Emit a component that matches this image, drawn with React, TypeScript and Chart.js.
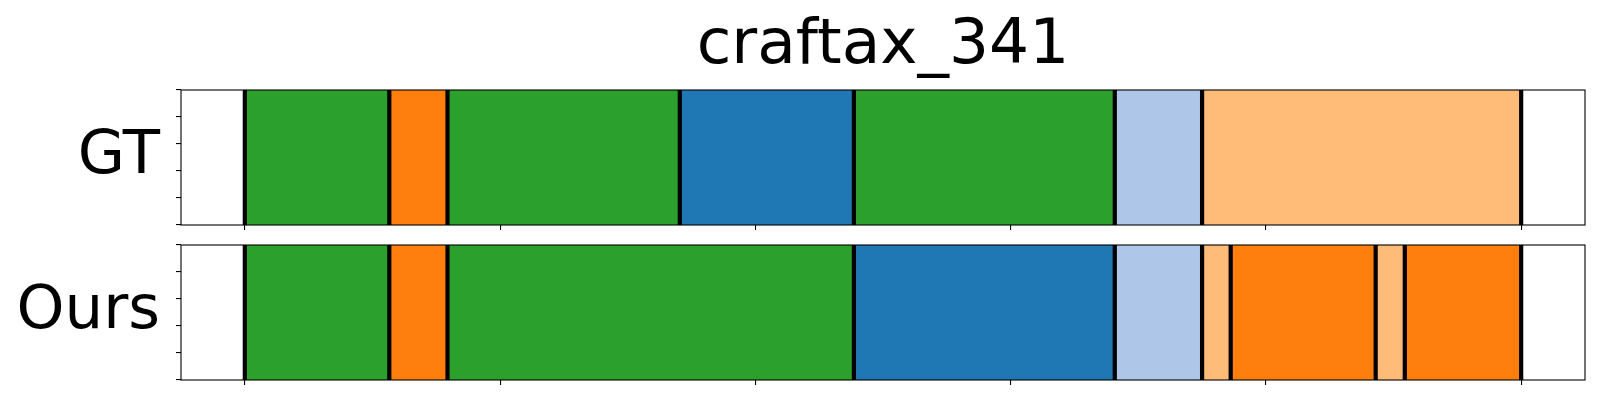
import React, { useEffect, useRef } from 'react';
import { Chart, registerables } from 'chart.js';

Chart.register(...registerables);

// ---- data ----
const TITLE = 'craftax_341';
const ROW_LABELS = ['GT', 'Ours'];
const GT_BOUNDS = [0, 28.3, 39.7, 85.2, 119.3, 170.4, 187.5, 250];
const GT_CLASSES = ['green', 'orange', 'green', 'blue', 'green', 'lightblue', 'lightorange'];
const OURS_BOUNDS = [0, 28.3, 39.7, 119.3, 170.4, 187.5, 193.1, 221.5, 227.2, 250];
const OURS_CLASSES = ['green', 'orange', 'green', 'blue', 'lightblue', 'lightorange', 'orange', 'lightorange', 'orange'];
const X_TICKS = [0, 50, 100, 150, 200, 250];
const Y_TICKS = [0, 1, 2, 3, 4];
const X_MIN = -12.5;
const X_MAX = 262.5;

// ---- style ----
const CLASS_COLORS: Record<string, string> = {
  green: '#2ca02c',
  orange: '#ff7f0e',
  blue: '#1f77b4',
  lightblue: '#aec7e8',
  lightorange: '#ffbb78',
};
const FONT = 'DejaVu Sans';

const boundaryPlugin = {
  id: 'segBoundaries',
  afterDatasetsDraw(chart: any, _args: any, opts: any) {
    const { ctx, chartArea } = chart;
    const xs = chart.scales.x;
    ctx.save();
    ctx.strokeStyle = '#000';
    ctx.lineWidth = 4.2;
    ctx.beginPath();
    for (const b of opts.bounds as number[]) {
      const x = xs.getPixelForValue(b);
      ctx.moveTo(x, chartArea.top);
      ctx.lineTo(x, chartArea.bottom);
    }
    ctx.stroke();
    ctx.lineWidth = 1.1;
    ctx.strokeRect(chartArea.left, chartArea.top, chartArea.right - chartArea.left, chartArea.bottom - chartArea.top);
    ctx.restore();
  },
};

function makeConfig(label: string, bounds: number[], classes: string[], showTitle: boolean, padding: any) {
  const datasets = classes.map((c, i) => ({
    label: c,
    data: [[bounds[i], bounds[i + 1]]],
    backgroundColor: CLASS_COLORS[c],
    borderWidth: 0,
    grouped: false,
    categoryPercentage: 1,
    barPercentage: 1,
    yAxisID: 'y',
    xAxisID: 'x',
  }));
  return {
    type: 'bar',
    data: { labels: [label], datasets },
    plugins: [boundaryPlugin],
    options: {
      animation: false,
      responsive: false,
      devicePixelRatio: 1,
      indexAxis: 'y',
      layout: { padding },
      plugins: {
        legend: { display: false },
        tooltip: { enabled: false },
        title: {
          display: showTitle,
          fullSize: false,
          text: TITLE,
          color: '#000',
          font: { family: FONT, size: 63, weight: 'normal', lineHeight: 1.2 },
          padding: { top: 8.5, bottom: 5.9 },
        },
        segBoundaries: { bounds },
      },
      scales: {
        x: {
          type: 'linear',
          min: X_MIN,
          max: X_MAX,
          afterBuildTicks: (s: any) => { s.ticks = X_TICKS.map((v) => ({ value: v })); },
          ticks: { display: false },
          grid: { drawOnChartArea: false, drawTicks: true, tickLength: 5, color: '#000', lineWidth: 1.1 },
          border: { display: false },
          afterFit: (s: any) => { s.height = 5; s.paddingLeft = 0; s.paddingRight = 0; },
        },
        y: {
          type: 'category',
          position: 'left',
          weight: 1,
          grid: { display: false, drawTicks: false, tickLength: 0 },
          border: { display: false },
          ticks: { color: '#000', font: { family: FONT, size: 61 }, padding: 16, labelOffset: 0 },
          afterFit: (s: any) => { s.width = 176; s.paddingTop = 0; s.paddingBottom = 0; },
        },
        y2: {
          type: 'linear',
          position: 'left',
          weight: 0,
          min: 0,
          max: 4,
          afterBuildTicks: (s: any) => { s.ticks = Y_TICKS.map((v) => ({ value: v })); },
          ticks: { display: false },
          grid: { drawOnChartArea: false, drawTicks: true, tickLength: 5, color: '#000', lineWidth: 1.1 },
          border: { display: false },
          afterFit: (s: any) => { s.width = 5; s.paddingTop = 0; s.paddingBottom = 0; },
        },
      },
    },
  };
}

function Strip(props: { top: number; height: number; label: string; bounds: number[]; classes: string[]; showTitle: boolean; padding: any }) {
  const ref = useRef<HTMLCanvasElement | null>(null);
  useEffect(() => {
    if (!ref.current) return;
    const chart = new Chart(ref.current, makeConfig(props.label, props.bounds, props.classes, props.showTitle, props.padding) as any);
    return () => chart.destroy();
  }, []);
  return (
    <canvas
      ref={ref}
      width={1600}
      height={props.height}
      style={{ position: 'absolute', left: 0, top: props.top, width: 1600, height: props.height }}
    />
  );
}

export default function App() {
  return (
    <div style={{ position: 'absolute', left: 0, top: 0, width: 1600, height: 400, background: '#fff' }}>
      <Strip top={0} height={235} label={ROW_LABELS[0]} bounds={GT_BOUNDS} classes={GT_CLASSES} showTitle={true}
        padding={{ left: 0, right: 15, top: 0, bottom: 5 }} />
      <Strip top={235} height={165} label={ROW_LABELS[1]} bounds={OURS_BOUNDS} classes={OURS_CLASSES} showTitle={false}
        padding={{ left: 0, right: 15, top: 10, bottom: 15 }} />
    </div>
  );
}
